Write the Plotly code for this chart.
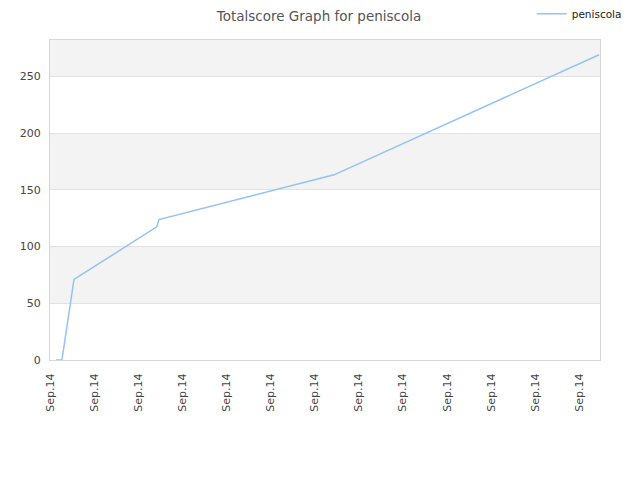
import plotly.graph_objects as go

# x positions in tick units (each tick labelled "Sep.14")
x_vals = [0.136, 0.27, 0.544, 2.42, 2.47, 6.44, 12.45]
scores = [0, 0, 71, 117.3, 123.8, 163.2, 269]
tick_pos = list(range(13))
tick_text = ["Sep.14"] * 13
band_edges = [(50, 100), (150, 200), (250, 300)]

fig = go.Figure()
fig.add_trace(go.Scatter(
    x=x_vals, y=scores, mode="lines", name="peniscola",
    line=dict(color="#92c3f4", width=1.5),
))
for lo, hi in band_edges:
    fig.add_shape(type="rect", xref="paper", yref="y", x0=0, x1=1, y0=lo, y1=hi,
                  fillcolor="#f3f3f3", line_width=0, layer="below")

# page body has an 8px margin, so the figure is 632x472 and shifted
fig.update_layout(
    width=632, height=472,
    margin=dict(l=42, r=40, t=32, b=120, autoexpand=False),
    paper_bgcolor="white", plot_bgcolor="white",
    font=dict(family="DejaVu Sans", size=11, color="#444"),
    title=dict(text="Totalscore Graph for peniscola", x=311 / 632, xanchor="center",
               xref="container", yref="container",
               y=0.993, yanchor="top", pad=dict(t=0, b=0),
               font=dict(size=13.5, color="#555")),
    showlegend=True,
    legend=dict(xref="container", yref="container", x=0.979, y=0.988,
                xanchor="right", yanchor="middle", font=dict(size=10.5, color="#222"),
                itemwidth=30, bgcolor="rgba(0,0,0,0)"),
    xaxis=dict(range=[0, 12.47], tickvals=tick_pos, ticktext=tick_text,
               tickangle=-90, showgrid=False, zeroline=False,
               showline=True, linecolor="#d8d8d8", mirror=True,
               ticks="", ticklabelstandoff=8, tickfont=dict(size=11, color="#444")),
    yaxis=dict(range=[0, 282], tickvals=[0, 50, 100, 150, 200, 250],
               showgrid=True, gridcolor="#e2e2e2", zeroline=False,
               showline=True, linecolor="#d8d8d8", mirror=True,
               ticks="", ticklabelstandoff=6, tickfont=dict(size=11, color="#444")),
)
fig.write_html("out.html")
